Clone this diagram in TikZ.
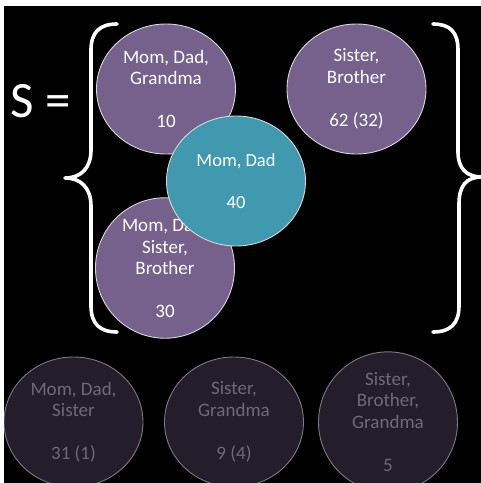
\documentclass[tikz,border=0pt]{standalone}
\usepackage{fontspec}
\setmainfont{Carlito}
\usetikzlibrary{shapes.geometric}
\definecolor{setpurple}{RGB}{118,96,140}
\definecolor{setteal}{RGB}{64,153,174}
\definecolor{darkfill}{RGB}{36,30,44}
\definecolor{darkline}{RGB}{125,120,130}
\definecolor{darktext}{RGB}{112,106,118}
\definecolor{lightline}{RGB}{215,215,222}
\tikzset{
  setcircle/.style={ellipse, minimum width=139pt, minimum height=130pt, inner sep=0pt,
    align=center, font=\fontsize{19}{21.5}\selectfont, line width=0.9pt},
  brightset/.style={setcircle, fill=setpurple, draw=lightline, text=white},
  tealset/.style={setcircle, fill=setteal, draw=lightline, text=white},
  dimset/.style={setcircle, fill=darkfill, draw=darkline, text=darktext},
  bracestroke/.style={draw=white, line width=3.6pt, line cap=round, line join=round}
}
\begin{document}
\begin{tikzpicture}[x=1pt,y=-1pt]
\useasboundingbox (0,0) rectangle (481,483);
\fill[white] (0,0) rectangle (481,483);
\fill[black] (4,6) rectangle (481,483);
\begin{scope}
\clip (4,6) rectangle (481,483);
% braces
\draw[bracestroke] (117,24) .. controls (100,24) and (91,32) .. (91,50) -- (91,150)
  .. controls (91,168) and (81,178) .. (65,178)
  .. controls (81,178) and (91,188) .. (91,206) -- (91,306)
  .. controls (91,324) and (100,332) .. (117,332);
\draw[bracestroke] (433,24) .. controls (450,24) and (458,32) .. (458,50) -- (458,152)
  .. controls (458,168) and (466,177) .. (482,177)
  .. controls (466,177) and (459,186) .. (459,204) -- (459,306)
  .. controls (459,324) and (450,332) .. (433,332);
\node[anchor=base west, text=white, font=\fontsize{51}{58}\selectfont, inner sep=0pt] (S) at (10,117) {S =};
% sets
\node[brightset] (mdg) at (166,89) {Mom, Dad,\\Grandma\\\mbox{}\\10};
\node[brightset] (sb) at (356.5,89) {Sister,\\Brother\\\mbox{}\\62 (32)};
\node[brightset] (mdsb) at (165,268) {Mom, Dad,\\Sister,\\Brother\\\mbox{}\\30};
\node[tealset, font=\fontsize{18.5}{21}\selectfont] (md) at (236,181) {Mom, Dad\\\mbox{}\\40};
\node[dimset] (mds) at (73.5,422) {Mom, Dad,\\Sister\\\mbox{}\\31 (1)};
\node[dimset] (sg) at (234,422) {Sister,\\Grandma\\\mbox{}\\9 (4)};
\node[dimset] (sbg) at (388,422) {Sister,\\Brother,\\Grandma\\\mbox{}\\5};
\end{scope}
\end{tikzpicture}
\end{document}
